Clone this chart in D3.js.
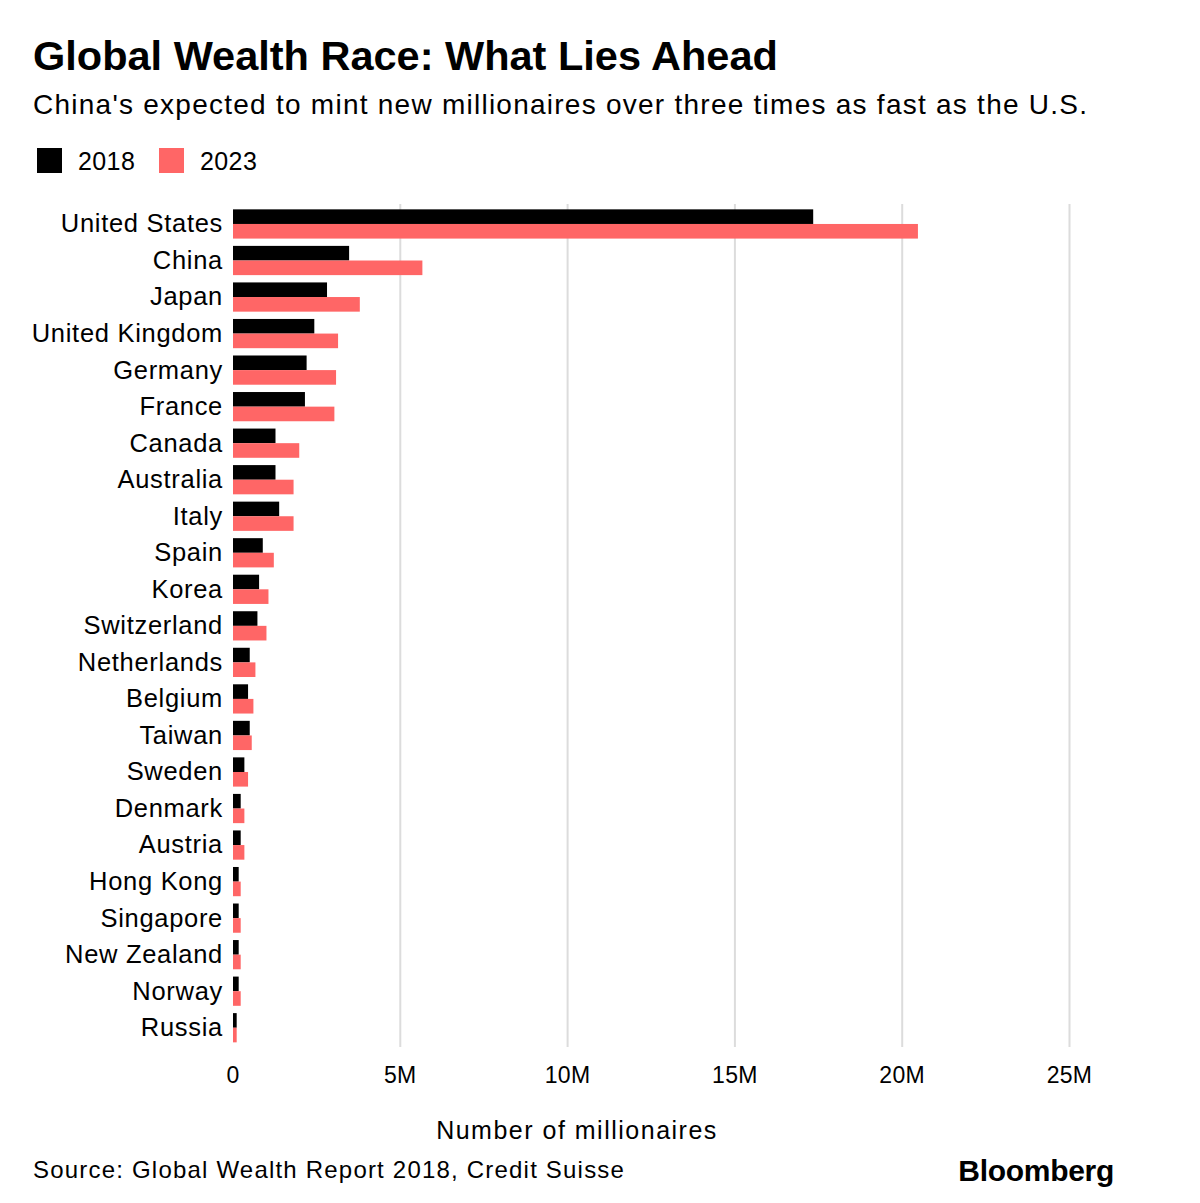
<!DOCTYPE html>
<html>
<head>
<meta charset="utf-8">
<script src="https://cdnjs.cloudflare.com/ajax/libs/d3/7.8.5/d3.min.js"></script>
<style>
  body { margin: 0; background: #fff; }
  svg { display: block; font-family: "Liberation Sans", Arial, Helvetica, sans-serif; }
</style>
</head>
<body>
<svg width="1200" height="1203"></svg>
<script>
var countries = ["United States", "China", "Japan", "United Kingdom", "Germany", "France",
  "Canada", "Australia", "Italy", "Spain", "Korea", "Switzerland", "Netherlands", "Belgium",
  "Taiwan", "Sweden", "Denmark", "Austria", "Hong Kong", "Singapore", "New Zealand", "Norway", "Russia"];

// millionaires, in millions
var values2018 = [17.34, 3.47, 2.81, 2.43, 2.20, 2.15, 1.27, 1.27, 1.38, 0.89, 0.78, 0.73,
  0.50, 0.45, 0.50, 0.34, 0.23, 0.23, 0.17, 0.17, 0.17, 0.17, 0.11];
var values2023 = [20.47, 5.66, 3.79, 3.14, 3.08, 3.03, 1.98, 1.81, 1.81, 1.22, 1.06, 1.00,
  0.67, 0.61, 0.56, 0.45, 0.34, 0.34, 0.23, 0.23, 0.23, 0.23, 0.11];

var years = ["2018", "2023"];
var colors = ["#000000", "#ff6666"];
var xTicks = [0, 5, 10, 15, 20, 25];
var xTickLabels = ["0", "5M", "10M", "15M", "20M", "25M"];

var data = countries.map(function(c, i) {
  return { country: c, values: [values2018[i], values2023[i]] };
});

var svg = d3.select("svg");

var x = d3.scaleLinear()
    .domain([0, 25])
    .range([233, 1069.5]);

var y = d3.scaleBand()
    .domain(countries)
    .range([205.7, 1046])
    .paddingInner(0.2)
    .paddingOuter(0.1);

var ySub = d3.scaleBand()
    .domain(years)
    .range([0, y.bandwidth()]);

// title + subtitle
svg.append("text")
    .attr("x", 33)
    .attr("y", 70)
    .style("font-size", "41.5px")
    .style("font-weight", "bold")
    .text("Global Wealth Race: What Lies Ahead");

svg.append("text")
    .attr("x", 33)
    .attr("y", 114)
    .style("font-size", "28px")
    .style("letter-spacing", "1.25px")
    .text("China's expected to mint new millionaires over three times as fast as the U.S.");

// legend
var legend = svg.append("g");
var legendX = [37, 159];
years.forEach(function(yr, i) {
  legend.append("rect")
      .attr("x", legendX[i])
      .attr("y", 148)
      .attr("width", 25)
      .attr("height", 25)
      .style("fill", colors[i]);
  legend.append("text")
      .attr("x", legendX[i] + 41)
      .attr("y", 170)
      .style("font-size", "25px")
      .style("letter-spacing", "0.4px")
      .text(yr);
});

// gridlines
svg.append("g")
    .selectAll("line")
    .data(xTicks.filter(function(d) { return d > 0; }))
    .enter()
    .append("line")
    .attr("x1", function(d) { return x(d); })
    .attr("x2", function(d) { return x(d); })
    .attr("y1", 204)
    .attr("y2", 1047)
    .style("stroke", "#dcdcdc")
    .style("stroke-width", 2);

// bars
var rows = svg.append("g")
    .selectAll(".row")
    .data(data)
    .enter()
    .append("g")
    .attr("class", "row")
    .attr("transform", function(d) {
        return "translate(0," + y(d.country) + ")";
    });

rows.selectAll("rect")
    .data(function(d) { return d.values; })
    .enter()
    .append("rect")
    .attr("x", x(0))
    .attr("y", function(d, i) { return ySub(years[i]); })
    .attr("width", function(d) { return x(d) - x(0); })
    .attr("height", ySub.bandwidth())
    .style("fill", function(d, i) { return colors[i]; });

rows.append("text")
    .attr("x", 223)
    .attr("y", y.bandwidth() / 2)
    .attr("dy", "0.33em")
    .style("text-anchor", "end")
    .style("font-size", "25.5px")
    .style("letter-spacing", "0.7px")
    .text(function(d) { return d.country; });

// x axis labels
svg.append("g")
    .selectAll("text")
    .data(xTicks)
    .enter()
    .append("text")
    .attr("x", function(d) { return x(d); })
    .attr("y", 1083)
    .style("text-anchor", "middle")
    .style("font-size", "23px")
    .style("letter-spacing", "0.3px")
    .text(function(d, i) { return xTickLabels[i]; });

svg.append("text")
    .attr("x", 577)
    .attr("y", 1139)
    .style("text-anchor", "middle")
    .style("font-size", "25px")
    .style("letter-spacing", "1.5px")
    .text("Number of millionaires");

// footer
svg.append("text")
    .attr("x", 33)
    .attr("y", 1178)
    .style("font-size", "24px")
    .style("letter-spacing", "1.2px")
    .text("Source: Global Wealth Report 2018, Credit Suisse");

svg.append("text")
    .attr("x", 1114)
    .attr("y", 1181)
    .style("text-anchor", "end")
    .style("font-size", "30px")
    .style("font-weight", "bold")
    .style("letter-spacing", "-0.3px")
    .text("Bloomberg");
</script>
</body>
</html>
